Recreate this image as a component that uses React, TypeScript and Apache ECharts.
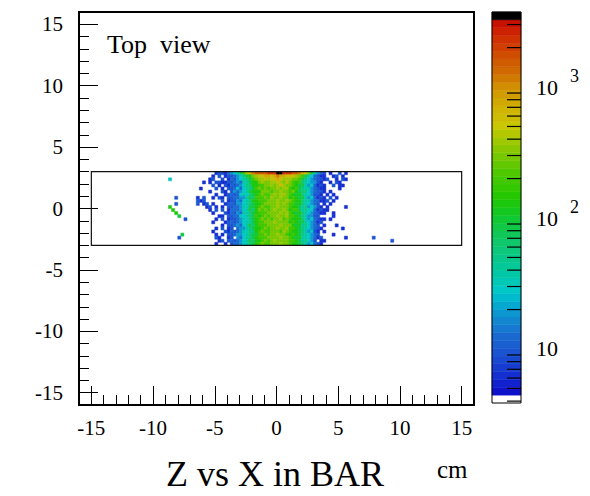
import React, { useEffect, useRef } from 'react';
import * as echarts from 'echarts';

const FONT = 'Liberation Serif';

// ---- axes ----
const X_RANGE = [-16, 16];
const Y_RANGE = [-16, 16];
const MAJOR_TICKS = [-15, -10, -5, 0, 5, 10, 15];
const MINOR_TICKS = [-15, -14, -13, -12, -11, -10, -9, -8, -7, -6, -5, -4, -3, -2, -1, 0, 1, 2, 3, 4, 5, 6, 7, 8, 9, 10, 11, 12, 13, 14, 15];

// ---- histogram ----
const BIN = 0.25;
const ROW_TOP = 3;      // upper edge of first row (cm)
const COL_START = -6.5; // left edge of first column (cm)
// level code of each cell (top row first), '.' = empty
const ROWS = [
  '....|..12|213|45|68|ac|ef|gg|gghh|hkkhh|hg|gf|ed|b8|6|43|2|.1..2.1.',
  '....|.1.2|.12|23|45|78|9b|cd|deed|efeed|dd|cb|a8|65|3|21|1|..12.1..',
  '....|12..|2.1|32|45|67|8a|bc|cdcd|dedcc|cb|ba|87|54|3|22|1|2..1.21.',
  '..1.|1.22|112|23|43|66|89|9b|cbbc|cdcbd|ba|9a|76|54|4|21|.|.1.21...',
  '....|.2.1|.21|32|34|57|79|9a|abbc|bcdcb|ba|98|86|45|3|12|1|..2.11..',
  '.1..|..2.|1.2|23|53|56|78|ab|abab|bcbcc|a9|a8|76|64|3|21|1|....1...',
  '....|1...|21.|24|34|56|89|99|bbba|bbcbb|ab|98|77|54|3|22|1|.1......',
  '....|..1.|.12|32|35|65|78|9a|baab|cbccb|a9|89|76|54|2|21|.|1.1.....',
  '1.2.|.1.2|1.2|23|34|46|87|aa|abac|bbcbb|9a|98|86|45|3|12|1|.2.1....',
  '.12.|....|2.1|22|43|56|79|9a|aabb|bcbbc|ba|99|76|64|3|31|1|2.1.....',
  '2.12|.1..|.12|32|44|56|78|99|abbb|bcbcb|aa|89|76|54|3|2.|1|.1......',
  '...1|2.1.|1.2|23|34|65|88|9a|baab|bcbbb|a9|98|67|45|4|21|.|1.....1.',
  '....|1.2.|2.1|33|34|56|87|9b|abab|cbbcb|9a|a8|67|55|3|12|1|1.......',
  '....|.1..|.21|32|43|66|78|9a|aabb|bbcbc|a9|89|76|54|3|21|1|..1.....',
  '....|...1|1.2|23|35|56|78|a9|abab|bcbbc|aa|98|76|44|2|2.|.|..1.....',
  '....|..1.|2.1|22|34|65|78|9a|baba|bbcab|a9|99|76|45|3|21|1|.1......',
  '....|.1..|.12|32|34|56|68|9a|abbb|cbbbb|9a|98|86|54|3|12|.|........',
  '....|....|1.2|23|43|56|87|9a|aabb|bbcbb|b9|89|67|54|3|2.|1|...1....',
  '....|..1.|2.1|2.|34|46|78|99|abab|bcbbc|aa|98|76|54|3|21|.|.....1..',
  '....|.1..|.21|32|34|65|77|9a|baab|bbacb|a9|98|76|45|2|1.|1|........',
  '....|..1.|1.2|23|44|56|78|8a|abab|bcbba|9a|98|76|54|3|2.|.|..1.....',
  '....|..21|..1|2.|43|56|78|9a|aabb|bbcbb|a9|89|66|54|3|12|.|......1.',
  '....|...1|2.2|32|34|56|87|99|abab|cbbbb|aa|98|67|54|2|.1|1|........',
  '....|..1.|.1.|23|34|56|78|9a|baab|bbcbb|a9|98|76|45|3|21|.|........',
];
// counts represented by each level code
const CODE_VALUES: Record<string, number> = {
  '1': 6, '2': 9, '3': 12, '4': 18, '5': 27, '6': 40, '7': 60, '8': 90, '9': 130,
  a: 190, b: 280, c: 400, d: 550, e: 800, f: 1100, g: 1600, h: 2300, k: 3500,
};
// isolated cells away from the core: [x low edge, y low edge, code]
const OUTLIERS: [number, number, string][] = [
  [-8.75, 2.25, '5'],
  [-8.25, 0.75, '2'],
  [-8.25, 0.25, '2'],
  [-6.5, 0.5, '2'],
  [-8.75, 0, '9'],
  [-8.5, -0.25, '9'],
  [-8.25, -0.5, '9'],
  [-8.0, -0.75, '8'],
  [-7.5, -1.0, '2'],
  [-7.75, -2.25, '8'],
  [-8.0, -2.5, '2'],
  [7.75, -2.5, '2'],
  [9.25, -2.75, '2'],
];
// outline of the bar: [x1, y1, x2, y2]
const BAR_OUTLINE = [-15, -3, 15, 3];

// ---- colour scale ----
const Z_MIN = 3.87;
const Z_MAX = 3740;
const COLORBAR_DECADES = [1, 2, 3];
const COLORBAR_MINOR = [4, 5, 6, 7, 8, 9, 20, 30, 40, 50, 60, 70, 80, 90, 200, 300, 400, 500, 600, 700, 800, 900, 2000, 3000];
const N_BANDS = 50;
const ANCHORS: [number, string][] = [
  [0.65, '#0c0cc8'], [0.8, '#1530d0'], [0.95, '#1a50d0'], [1.1, '#1a6ad0'],
  [1.25, '#1090d0'], [1.37, '#00b4d0'], [1.45, '#00c8c8'], [1.6, '#00c8a0'],
  [1.8, '#10c870'], [2.0, '#10c830'], [2.15, '#20c800'], [2.35, '#50c800'],
  [2.55, '#90c800'], [2.7, '#c8c800'], [2.85, '#d0b000'], [3.0, '#d09000'],
  [3.1, '#d07000'], [3.25, '#d04c00'], [3.4, '#d02800'], [3.5, '#c80c00'],
];

const LMIN = Math.log10(Z_MIN);
const LMAX = Math.log10(Z_MAX);
const STEP = (LMAX - LMIN) / N_BANDS;

function hex(h: string) {
  return [parseInt(h.slice(1, 3), 16), parseInt(h.slice(3, 5), 16), parseInt(h.slice(5, 7), 16)];
}
function paletteAt(l: number) {
  if (l <= ANCHORS[0][0]) return ANCHORS[0][1];
  for (let i = 1; i < ANCHORS.length; i++) {
    if (l <= ANCHORS[i][0]) {
      const [l0, c0] = ANCHORS[i - 1];
      const [l1, c1] = ANCHORS[i];
      const t = (l - l0) / (l1 - l0);
      const a = hex(c0), b = hex(c1);
      const m = a.map((v, k) => Math.round(v + (b[k] - v) * t));
      return `rgb(${m[0]},${m[1]},${m[2]})`;
    }
  }
  return ANCHORS[ANCHORS.length - 1][1];
}
function bandColor(i: number) {
  if (i <= 0) return '#ffffff';
  if (i >= N_BANDS - 1) return '#000000';
  return paletteAt(LMIN + (i + 0.5) * STEP);
}
function valueColor(v: number) {
  let i = Math.floor((Math.log10(v) - LMIN) / STEP);
  i = Math.max(0, Math.min(N_BANDS - 1, i));
  return bandColor(i);
}

const CELLS: number[][] = [];
ROWS.forEach((row, r) => {
  const codes = row.split('|').join('');
  const y0 = ROW_TOP - (r + 1) * BIN;
  for (let j = 0; j < codes.length; j++) {
    const c = codes[j];
    if (CODE_VALUES[c] !== undefined) CELLS.push([COL_START + j * BIN, y0, CODE_VALUES[c]]);
  }
});
OUTLIERS.forEach(([x0, y0, c]) => CELLS.push([x0, y0, CODE_VALUES[c]]));

const BANDS = Array.from({ length: N_BANDS }, (_, i) => [0.5, LMIN + (i + 0.5) * STEP, i]);
const MINOR_LOG = COLORBAR_MINOR.filter((v) => v > Z_MIN && v < Z_MAX).map((v) => [1, Math.log10(v)]);

const tickStyle = { color: '#000', width: 1 };
const labelStyle = { fontFamily: FONT, fontSize: 21, color: '#000' };

function buildOption(): any {
  return {
    animation: false,
    backgroundColor: '#ffffff',
    textStyle: { fontFamily: FONT },
    title: {
      text: 'Z vs X in BAR',
      left: 166,
      top: 456,
      padding: 0,
      textStyle: { fontFamily: FONT, fontSize: 36, fontWeight: 'normal', color: '#000' },
    },
    graphic: [
      { type: 'text', left: 107, top: 31, style: { text: 'Top  view', font: `26px "${FONT}"`, fill: '#000' } },
      { type: 'text', left: 437, top: 457, style: { text: 'cm', font: `25px "${FONT}"`, fill: '#000' } },
    ],
    grid: [
      { left: 79, top: 12, width: 395, height: 393, show: true, borderColor: '#000', borderWidth: 2, backgroundColor: 'transparent' },
      { left: 492, top: 12, width: 29, height: 391, show: false },
    ],
    xAxis: [
      {
        gridIndex: 0, type: 'value', min: X_RANGE[0], max: X_RANGE[1], position: 'bottom',
        axisLine: { show: false, onZero: false }, splitLine: { show: false },
        axisTick: { show: true, inside: true, length: 10, customValues: MINOR_TICKS, lineStyle: tickStyle },
        axisLabel: { customValues: MAJOR_TICKS, margin: 12, ...labelStyle },
      },
      {
        gridIndex: 0, type: 'value', min: X_RANGE[0], max: X_RANGE[1], position: 'bottom',
        axisLine: { show: false, onZero: false }, splitLine: { show: false }, axisLabel: { show: false },
        axisTick: { show: true, inside: true, length: 19, customValues: MAJOR_TICKS, lineStyle: tickStyle },
      },
      { gridIndex: 1, type: 'value', min: 0, max: 1, show: false, axisLine: { onZero: false } },
    ],
    yAxis: [
      {
        gridIndex: 0, type: 'value', min: Y_RANGE[0], max: Y_RANGE[1], position: 'left',
        axisLine: { show: false, onZero: false }, splitLine: { show: false },
        axisTick: { show: true, inside: true, length: 10, customValues: MINOR_TICKS, lineStyle: tickStyle },
        axisLabel: { customValues: MAJOR_TICKS, margin: 16, ...labelStyle },
      },
      {
        gridIndex: 0, type: 'value', min: Y_RANGE[0], max: Y_RANGE[1], position: 'left',
        axisLine: { show: false, onZero: false }, splitLine: { show: false }, axisLabel: { show: false },
        axisTick: { show: true, inside: true, length: 19, customValues: MAJOR_TICKS, lineStyle: tickStyle },
      },
      {
        gridIndex: 1, type: 'value', min: LMIN, max: LMAX, position: 'right',
        axisLine: { show: false, onZero: false }, splitLine: { show: false },
        axisTick: { show: true, inside: true, length: 29, customValues: COLORBAR_DECADES, lineStyle: { color: '#000', width: 1.2 } },
        axisLabel: {
          customValues: COLORBAR_DECADES,
          margin: 15,
          fontFamily: FONT,
          formatter: (v: number) => (Math.round(v) === 1 ? '{b|10}' : `{b|10}{s|${Math.round(v)}}`),
          rich: {
            b: { fontFamily: FONT, fontSize: 22, color: '#000', padding: [9, 0, 9, 0] },
            s: { fontFamily: FONT, fontSize: 18, color: '#000', padding: [0, 0, 22, 12] },
          },
        },
      },
    ],
    series: [
      {
        type: 'custom', xAxisIndex: 0, yAxisIndex: 0, data: CELLS, encode: { x: 0, y: 1 },
        renderItem: (_p: any, api: any) => {
          const x0 = api.value(0), y0 = api.value(1), v = api.value(2);
          const a = api.coord([x0, y0 + BIN]);
          const b = api.coord([x0 + BIN, y0]);
          const c = valueColor(v);
          return { type: 'rect', shape: { x: a[0], y: a[1], width: b[0] - a[0], height: b[1] - a[1] }, style: { fill: c, stroke: c, lineWidth: 0.5 } };
        },
      },
      {
        type: 'custom', xAxisIndex: 0, yAxisIndex: 0, data: [BAR_OUTLINE], encode: { x: 0, y: 1 }, z: 5,
        renderItem: (_p: any, api: any) => {
          const a = api.coord([api.value(0), api.value(3)]);
          const b = api.coord([api.value(2), api.value(1)]);
          return { type: 'rect', shape: { x: a[0], y: a[1], width: b[0] - a[0], height: b[1] - a[1] }, style: { fill: 'none', stroke: '#111', lineWidth: 1.2 } };
        },
      },
      {
        type: 'custom', xAxisIndex: 2, yAxisIndex: 2, data: BANDS, encode: { x: 0, y: 1 },
        renderItem: (_p: any, api: any) => {
          const i = api.value(2);
          const a = api.coord([0, LMIN + (i + 1) * STEP]);
          const b = api.coord([1, LMIN + i * STEP]);
          const c = bandColor(i);
          return { type: 'rect', shape: { x: a[0], y: a[1], width: b[0] - a[0], height: b[1] - a[1] }, style: { fill: c, stroke: c, lineWidth: 0.5 } };
        },
      },
      {
        type: 'custom', xAxisIndex: 2, yAxisIndex: 2, data: MINOR_LOG, encode: { x: 0, y: 1 }, z: 4,
        renderItem: (_p: any, api: any) => {
          const p = api.coord([api.value(0), api.value(1)]);
          return { type: 'line', shape: { x1: p[0] - 14, y1: p[1], x2: p[0], y2: p[1] }, style: { stroke: '#000', lineWidth: 1.2 } };
        },
      },
      {
        type: 'custom', xAxisIndex: 2, yAxisIndex: 2, data: [[0, LMIN, 1, LMAX]], encode: { x: 0, y: 1 }, z: 5,
        renderItem: (_p: any, api: any) => {
          const a = api.coord([api.value(0), api.value(3)]);
          const b = api.coord([api.value(2), api.value(1)]);
          return { type: 'rect', shape: { x: a[0], y: a[1], width: b[0] - a[0], height: b[1] - a[1] }, style: { fill: 'none', stroke: '#000', lineWidth: 1 } };
        },
      },
    ],
  };
}

export default function App() {
  const ref = useRef<HTMLDivElement>(null);
  useEffect(() => {
    if (!ref.current) return;
    const chart = echarts.init(ref.current, null, { renderer: 'svg' });
    chart.setOption(buildOption());
    return () => chart.dispose();
  }, []);
  return <div ref={ref} style={{ position: 'fixed', left: 0, top: 0, width: 590, height: 496, background: '#fff' }} />;
}
